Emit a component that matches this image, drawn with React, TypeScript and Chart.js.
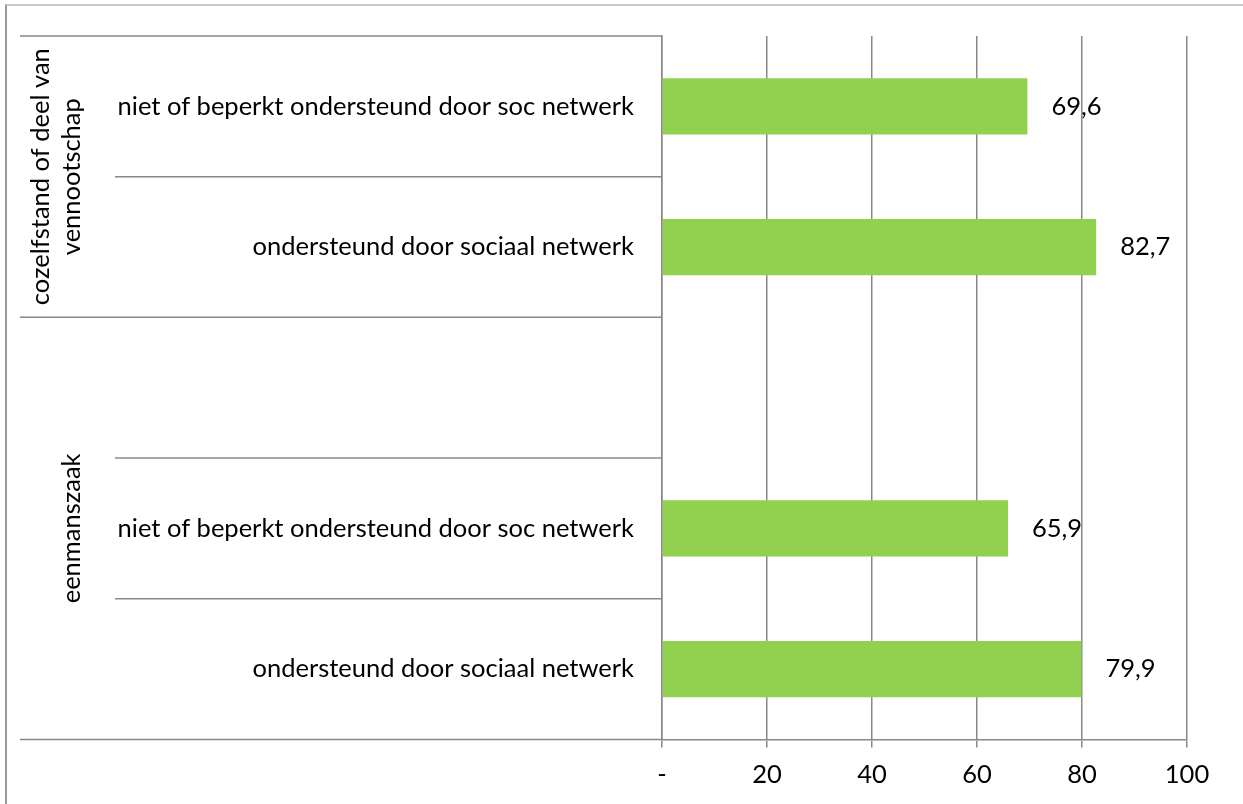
import React, { useEffect, useRef } from 'react';
import { Chart, registerables } from 'chart.js';

Chart.register(...registerables);

const categories = [
  'niet of beperkt ondersteund door soc netwerk',
  'ondersteund door sociaal netwerk',
  '',
  'niet of beperkt ondersteund door soc netwerk',
  'ondersteund door sociaal netwerk',
];
const values: (number | null)[] = [69.6, 82.7, null, 65.9, 79.9];
const groupLabels = [['cozelfstand of deel van', 'vennootschap'], ['eenmanszaak']];
const groupStarts = [0, 2];
const groupEnds = [1, 4];
const xMin = 0;
const xMax = 100;
const xStep = 20;

const FONT_FAMILY = 'Lato, sans-serif';
const FONT_SIZE = 25.5;
const GRID = '#888888';
const BAR = '#92D050';
const INNER_LINE_X = 115;
const GROUP_LAST_X = 72;
const GROUP_LINE_GAP = 31;

const fmt = (v: number) => v.toFixed(1).replace('.', ',');

const decorPlugin = {
  id: 'decor',
  afterDraw(chart: any) {
    const { ctx, chartArea, scales } = chart;
    const y = scales.y;
    const step = y.getPixelForValue(1) - y.getPixelForValue(0);
    ctx.save();
    ctx.strokeStyle = GRID;
    ctx.lineWidth = 1.5;
    for (let i = 0; i <= categories.length; i++) {
      const py = y.getPixelForValue(i) - step / 2;
      const edge = groupStarts.includes(i) || i === categories.length;
      const x0 = edge ? y.left : INNER_LINE_X;
      ctx.beginPath();
      ctx.moveTo(x0, py);
      ctx.lineTo(chartArea.left, py);
      ctx.stroke();
    }
    ctx.fillStyle = '#000';
    ctx.font = `${FONT_SIZE}px ${FONT_FAMILY}`;
    ctx.textAlign = 'center';
    ctx.textBaseline = 'middle';
    groupLabels.forEach((lines, g) => {
      const cy = (y.getPixelForValue(groupStarts[g]) + y.getPixelForValue(groupEnds[g])) / 2;
      lines.forEach((t, k) => {
        const cx = GROUP_LAST_X - (lines.length - 1 - k) * GROUP_LINE_GAP;
        ctx.save();
        ctx.translate(cx, cy);
        ctx.rotate(-Math.PI / 2);
        ctx.fillText(t, 0, 0);
        ctx.restore();
      });
    });
    const meta = chart.getDatasetMeta(0);
    ctx.textAlign = 'left';
    meta.data.forEach((bar: any, i: number) => {
      const v = values[i];
      if (v == null) return;
      ctx.fillText(fmt(v), bar.x + 24, bar.y);
    });
    ctx.restore();
  },
};

export default function App() {
  const ref = useRef<HTMLCanvasElement>(null);
  useEffect(() => {
    if (!ref.current) return;
    const chart = new Chart(ref.current, {
      type: 'bar',
      data: {
        labels: categories,
        datasets: [
          {
            data: values,
            backgroundColor: BAR,
            borderWidth: 0,
            categoryPercentage: 1,
            barPercentage: 0.4,
          },
        ],
      },
      options: {
        indexAxis: 'y',
        animation: false,
        responsive: false,
        maintainAspectRatio: false,
        layout: { padding: { left: 20, top: 36, right: 56, bottom: 2 } },
        plugins: { legend: { display: false }, tooltip: { enabled: false } },
        scales: {
          x: {
            min: xMin,
            max: xMax,
            ticks: {
              stepSize: xStep,
              color: '#000',
              font: { family: FONT_FAMILY, size: FONT_SIZE },
              padding: 12,
              callback: (v: any) => (Number(v) === 0 ? '-' : String(v)),
            },
            grid: { color: GRID, lineWidth: 1.5, tickLength: 8 },
            border: { color: GRID, width: 1.5 },
          },
          y: {
            ticks: {
              color: '#000',
              autoSkip: false,
              font: { family: FONT_FAMILY, size: FONT_SIZE },
              padding: 28,
            },
            grid: { display: false, drawTicks: false },
            border: { display: true, color: GRID, width: 1.5 },
            afterFit: (scale: any) => {
              scale.width = 642;
              scale.paddingTop = 0;
              scale.paddingBottom = 0;
            },
          },
        },
      },
      plugins: [decorPlugin],
    });
    return () => chart.destroy();
  }, []);
  return (
    <div style={{ position: 'fixed', left: 0, top: 0, width: 1243, height: 804, overflow: 'hidden', background: '#fff' }}>
      <div
        style={{
          position: 'absolute',
          left: 5,
          top: 4,
          width: 1400,
          height: 1000,
          borderLeft: '2px solid #999',
          borderTop: '2px solid #c8c8c8',
        }}
      />
      <canvas ref={ref} width={1243} height={804} style={{ position: 'absolute', left: 0, top: 0 }} />
    </div>
  );
}
